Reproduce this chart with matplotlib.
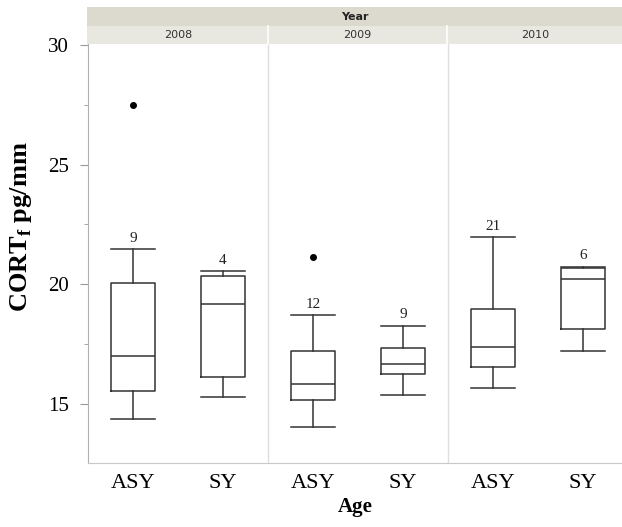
import matplotlib
matplotlib.use("Agg")
import matplotlib.pyplot as plt
from matplotlib.patches import Rectangle

years = ["2008", "2009", "2010"]
ages = ["ASY", "SY"]
medians = [17.02, 19.19, 15.85, 16.67, 17.36, 20.24]
q1s = [15.52, 16.12, 15.18, 16.23, 16.53, 18.12]
q3s = [20.07, 20.36, 17.23, 17.32, 18.98, 20.66]
whis_lo = [14.35, 15.27, 14.03, 15.36, 15.66, 17.23]
whis_hi = [21.46, 20.56, 18.70, 18.27, 21.97, 20.74]
outliers = [[27.49], [], [21.14], [], [], []]
counts = [9, 4, 12, 9, 21, 6]

fig = plt.figure(figsize=(6.22, 5.27), dpi=100)
W, H = 622, 527
left, right, top, bottom = 88, 622, 44, 463
ax = fig.add_axes([left / W, 1 - bottom / H, (right - left) / W, (bottom - top) / H])

stats = []
for i in range(6):
    stats.append(dict(med=medians[i], q1=q1s[i], q3=q3s[i],
                      whislo=whis_lo[i], whishi=whis_hi[i], fliers=outliers[i]))
pos = [0.5, 1.5, 2.5, 3.5, 4.5, 5.5]
lc = "#333333"
ax.bxp(stats, positions=pos, widths=0.49, showfliers=True,
       boxprops=dict(color=lc, linewidth=1.1),
       whiskerprops=dict(color=lc, linewidth=1.1),
       capprops=dict(color=lc, linewidth=1.1),
       medianprops=dict(color=lc, linewidth=1.1),
       flierprops=dict(marker="o", markerfacecolor="black", markeredgecolor="black", markersize=4),
       capwidths=0.49)

for p, c, hi in zip(pos, counts, whis_hi):
    ax.annotate(str(c), (p, hi), xytext=(0, 3), textcoords="offset points",
                ha="center", va="bottom", fontsize=11, family="Liberation Serif", color="#222222")

ax.set_xlim(0, 6 * (right - left) / 540)
ax.set_ylim(12.53, 30.04)
for xv in [2, 4]:
    ax.axvline(xv, color="#dedede", linewidth=1.0)

ax.set_xticks(pos)
ax.set_xticklabels(ages * 3, fontsize=16, family="Liberation Serif")
ax.tick_params(axis="x", length=0, pad=8)
ax.set_yticks([15, 20, 25, 30])
ax.set_yticks([17.5, 22.5, 27.5], minor=True)
ax.set_yticklabels(["15", "20", "25", "30"], fontsize=15, family="Liberation Serif")
ax.tick_params(axis="y", which="major", direction="out", length=6, color="#999999", pad=8)
ax.tick_params(axis="y", which="minor", direction="out", length=3, color="#999999")
for s in ["top", "right"]:
    ax.spines[s].set_visible(False)
ax.spines["left"].set_color("#b0b0b0")
ax.spines["bottom"].set_color("#c8c8c8")

ax.set_ylabel("CORT$_\\mathregular{f}$ pg/mm", fontsize=19, fontweight="bold", family="Liberation Serif")
ax.yaxis.set_label_coords((34 - left) / (right - left), (bottom - 227) / (bottom - top))
ax.set_xlabel("Age", fontsize=15, fontweight="bold", family="Liberation Serif", labelpad=3)

# header bands
def px_rect(x0, y0, x1, y1, color):
    fig.patches.append(Rectangle((x0 / W, 1 - y1 / H), (x1 - x0) / W, (y1 - y0) / H,
                                 transform=fig.transFigure, facecolor=color, edgecolor="none"))

px_rect(87, 7, 622, 26, "#dcdace")
px_rect(87, 26, 622, 44, "#e8e7e0")
for xs in [268, 447]:
    fig.add_artist(plt.Line2D([xs / W, xs / W], [1 - 44 / H, 1 - 26 / H], color="white", linewidth=1.2,
                              transform=fig.transFigure))
fig.text((87 + 622) / 2 / W, 1 - 16.5 / H, "Year", ha="center", va="center", fontsize=8,
         fontweight="bold", family="DejaVu Sans", color="#222222")
for xc, yr in zip([178, 357, 535], years):
    fig.text(xc / W, 1 - 35 / H, yr, ha="center", va="center", fontsize=8, family="DejaVu Sans", color="#333333")

fig.savefig("out.png", dpi=100)
